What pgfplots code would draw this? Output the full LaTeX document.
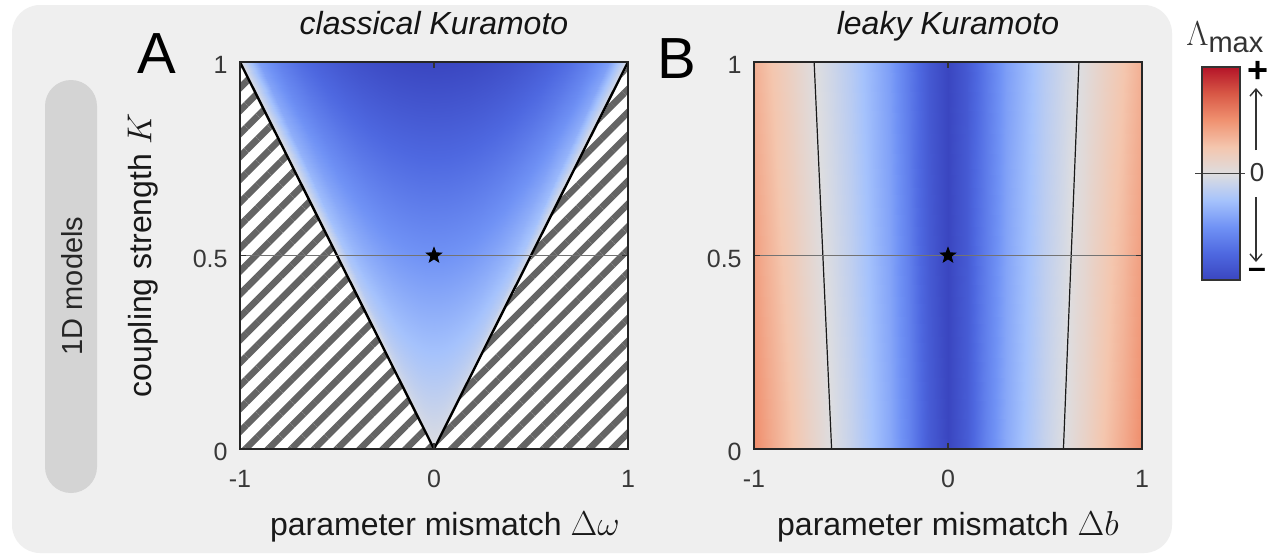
\documentclass[border=0pt]{standalone}
\usepackage[no-math]{fontspec}
\setmainfont{Liberation Sans}
\setsansfont{Liberation Sans}
\usepackage{pgfplots}
\pgfplotsset{compat=1.18}
\usetikzlibrary{patterns.meta,arrows.meta}

\definecolor{bgc}{RGB}{239,239,239}
\definecolor{pillc}{RGB}{212,212,212}
\definecolor{hatchc}{RGB}{100,100,100}
\definecolor{midl}{RGB}{115,115,115}

\pgfdeclareplotmark{fstar}{%
  \pgfpathmoveto{\pgfpointpolar{90}{\pgfplotmarksize}}%
  \pgfpathlineto{\pgfpointpolar{126}{0.42\pgfplotmarksize}}%
  \pgfpathlineto{\pgfpointpolar{162}{\pgfplotmarksize}}%
  \pgfpathlineto{\pgfpointpolar{198}{0.42\pgfplotmarksize}}%
  \pgfpathlineto{\pgfpointpolar{234}{\pgfplotmarksize}}%
  \pgfpathlineto{\pgfpointpolar{270}{0.42\pgfplotmarksize}}%
  \pgfpathlineto{\pgfpointpolar{306}{\pgfplotmarksize}}%
  \pgfpathlineto{\pgfpointpolar{342}{0.42\pgfplotmarksize}}%
  \pgfpathlineto{\pgfpointpolar{18}{\pgfplotmarksize}}%
  \pgfpathlineto{\pgfpointpolar{54}{0.42\pgfplotmarksize}}%
  \pgfpathclose
  \pgfusepathqfillstroke
}

\pgfplotsset{
  colormap={lk}{rgb255=(58,70,192) rgb255=(78,104,224) rgb255=(112,146,245) rgb255=(165,194,252) rgb255=(221,221,224) rgb255=(244,198,174) rgb255=(240,145,112) rgb255=(216,88,70) rgb255=(180,20,40)},
  panel/.style={
    scale only axis, width=194pt, height=193.5pt,
    anchor=south west,
    xmin=-1, xmax=1, ymin=0, ymax=1,
    xtick={-1,0,1}, xticklabels={-1,0,1},
    ytick={0,0.5,1}, yticklabels={0,0.5,1},
    tick align=inside, major tick length=3pt,
    tick style={black!80, line width=0.6pt},
    axis line style={black!85, line width=0.9pt},
    axis on top,
    ticklabel style={font=\fontsize{12.5}{14}\selectfont, text=black!78},
    xticklabel style={anchor=base, yshift=-19pt},
    yticklabel style={anchor=east, inner sep=0pt, xshift=-6pt, yshift=-1.5pt},
    title style={font=\itshape\fontsize{16}{18}\selectfont, text=black!92, at={(0.5,1)}, anchor=base, yshift=7.75pt},
    xlabel style={font=\fontsize{16}{18}\selectfont, text=black!90, at={(0.5,0)}, anchor=base, yshift=-43pt},
    ylabel style={font=\fontsize{16}{18}\selectfont, text=black!90, at={(-0.25,0.5)}, anchor=center},
    point meta min=-1, point meta max=1, colormap name=lk,
  },
}

\begin{document}
\begin{tikzpicture}[x=1pt,y=1pt]
\useasboundingbox (0,0) rectangle (637,-278.5);
\fill[white] (0,0) rectangle (637,-278.5);
\fill[bgc, rounded corners=14pt] (6,-2.5) rectangle (586,-276.5);
\fill[pillc, rounded corners=13pt] (22.5,-40) rectangle (48.5,-246.5);
\node[rotate=90, font=\fontsize{14.5}{16}\selectfont, text=black!85] at (36,-143) {1D models};
\node[font=\fontsize{29}{30}\selectfont, inner sep=0pt] at (78.5,-27) {A};
\node[font=\fontsize{29}{30}\selectfont, inner sep=0pt] at (338.5,-29.5) {B};

% ---------------- Panel A
\begin{axis}[panel, at={(120pt,-224.5pt)},
  title={classical Kuramoto},
  xlabel={parameter mismatch $\Delta\omega$},
  ylabel={coupling strength $K$},
  xlabel style={at={(0.528,0)}}]
\addplot[draw=none, fill=white] coordinates {(-1,0) (0,0) (-1,1) (-1,0)};
\addplot[draw=none, fill=white] coordinates {(0,0) (1,0) (1,1) (0,0)};
\addplot[draw=none, pattern={Lines[angle=45,distance=8.1pt,line width=3.3pt]}, pattern color=hatchc] coordinates {(-1,0) (0,0) (-1,1) (-1,0)};
\addplot[draw=none, pattern={Lines[angle=45,distance=8.1pt,line width=3.3pt]}, pattern color=hatchc] coordinates {(0,0) (1,0) (1,1) (0,0)};
\addplot[surf, shader=interp, mesh/cols=21, point meta=explicit] coordinates {
(0,0)[0] (0,0)[0] (0,0)[0] (0,0)[0] (0,0)[0] (0,0)[0] (0,0)[0] (0,0)[0] (0,0)[0] (0,0)[0] (0,0)[0] (0,0)[0] (0,0)[0] (0,0)[0] (0,0)[0] (0,0)[0] (0,0)[0] (0,0)[0] (0,0)[0] (0,0)[0] (0,0)[0]
(-0.1,0.1)[0] (-0.09,0.1)[-0.044] (-0.08,0.1)[-0.06] (-0.07,0.1)[-0.071] (-0.06,0.1)[-0.08] (-0.05,0.1)[-0.087] (-0.04,0.1)[-0.092] (-0.03,0.1)[-0.095] (-0.02,0.1)[-0.098] (-0.01,0.1)[-0.1] (0,0.1)[-0.1] (0.01,0.1)[-0.1] (0.02,0.1)[-0.098] (0.03,0.1)[-0.095] (0.04,0.1)[-0.092] (0.05,0.1)[-0.087] (0.06,0.1)[-0.08] (0.07,0.1)[-0.071] (0.08,0.1)[-0.06] (0.09,0.1)[-0.044] (0.1,0.1)[0]
(-0.2,0.2)[0] (-0.18,0.2)[-0.087] (-0.16,0.2)[-0.12] (-0.14,0.2)[-0.143] (-0.12,0.2)[-0.16] (-0.1,0.2)[-0.173] (-0.08,0.2)[-0.183] (-0.06,0.2)[-0.191] (-0.04,0.2)[-0.196] (-0.02,0.2)[-0.199] (0,0.2)[-0.2] (0.02,0.2)[-0.199] (0.04,0.2)[-0.196] (0.06,0.2)[-0.191] (0.08,0.2)[-0.183] (0.1,0.2)[-0.173] (0.12,0.2)[-0.16] (0.14,0.2)[-0.143] (0.16,0.2)[-0.12] (0.18,0.2)[-0.087] (0.2,0.2)[0]
(-0.3,0.3)[0] (-0.27,0.3)[-0.131] (-0.24,0.3)[-0.18] (-0.21,0.3)[-0.214] (-0.18,0.3)[-0.24] (-0.15,0.3)[-0.26] (-0.12,0.3)[-0.275] (-0.09,0.3)[-0.286] (-0.06,0.3)[-0.294] (-0.03,0.3)[-0.299] (0,0.3)[-0.3] (0.03,0.3)[-0.299] (0.06,0.3)[-0.294] (0.09,0.3)[-0.286] (0.12,0.3)[-0.275] (0.15,0.3)[-0.26] (0.18,0.3)[-0.24] (0.21,0.3)[-0.214] (0.24,0.3)[-0.18] (0.27,0.3)[-0.131] (0.3,0.3)[0]
(-0.4,0.4)[0] (-0.36,0.4)[-0.174] (-0.32,0.4)[-0.24] (-0.28,0.4)[-0.286] (-0.24,0.4)[-0.32] (-0.2,0.4)[-0.346] (-0.16,0.4)[-0.367] (-0.12,0.4)[-0.382] (-0.08,0.4)[-0.392] (-0.04,0.4)[-0.398] (0,0.4)[-0.4] (0.04,0.4)[-0.398] (0.08,0.4)[-0.392] (0.12,0.4)[-0.382] (0.16,0.4)[-0.367] (0.2,0.4)[-0.346] (0.24,0.4)[-0.32] (0.28,0.4)[-0.286] (0.32,0.4)[-0.24] (0.36,0.4)[-0.174] (0.4,0.4)[0]
(-0.5,0.5)[0] (-0.45,0.5)[-0.218] (-0.4,0.5)[-0.3] (-0.35,0.5)[-0.357] (-0.3,0.5)[-0.4] (-0.25,0.5)[-0.433] (-0.2,0.5)[-0.459] (-0.15,0.5)[-0.477] (-0.1,0.5)[-0.49] (-0.05,0.5)[-0.498] (0,0.5)[-0.5] (0.05,0.5)[-0.498] (0.1,0.5)[-0.49] (0.15,0.5)[-0.477] (0.2,0.5)[-0.459] (0.25,0.5)[-0.433] (0.3,0.5)[-0.4] (0.35,0.5)[-0.357] (0.4,0.5)[-0.3] (0.45,0.5)[-0.218] (0.5,0.5)[0]
(-0.6,0.6)[0] (-0.54,0.6)[-0.262] (-0.48,0.6)[-0.36] (-0.42,0.6)[-0.428] (-0.36,0.6)[-0.48] (-0.3,0.6)[-0.52] (-0.24,0.6)[-0.55] (-0.18,0.6)[-0.572] (-0.12,0.6)[-0.588] (-0.06,0.6)[-0.597] (0,0.6)[-0.6] (0.06,0.6)[-0.597] (0.12,0.6)[-0.588] (0.18,0.6)[-0.572] (0.24,0.6)[-0.55] (0.3,0.6)[-0.52] (0.36,0.6)[-0.48] (0.42,0.6)[-0.428] (0.48,0.6)[-0.36] (0.54,0.6)[-0.262] (0.6,0.6)[0]
(-0.7,0.7)[0] (-0.63,0.7)[-0.305] (-0.56,0.7)[-0.42] (-0.49,0.7)[-0.5] (-0.42,0.7)[-0.56] (-0.35,0.7)[-0.606] (-0.28,0.7)[-0.642] (-0.21,0.7)[-0.668] (-0.14,0.7)[-0.686] (-0.07,0.7)[-0.697] (0,0.7)[-0.7] (0.07,0.7)[-0.697] (0.14,0.7)[-0.686] (0.21,0.7)[-0.668] (0.28,0.7)[-0.642] (0.35,0.7)[-0.606] (0.42,0.7)[-0.56] (0.49,0.7)[-0.5] (0.56,0.7)[-0.42] (0.63,0.7)[-0.305] (0.7,0.7)[0]
(-0.8,0.8)[0] (-0.72,0.8)[-0.349] (-0.64,0.8)[-0.48] (-0.56,0.8)[-0.571] (-0.48,0.8)[-0.64] (-0.4,0.8)[-0.693] (-0.32,0.8)[-0.734] (-0.24,0.8)[-0.763] (-0.16,0.8)[-0.784] (-0.08,0.8)[-0.796] (0,0.8)[-0.8] (0.08,0.8)[-0.796] (0.16,0.8)[-0.784] (0.24,0.8)[-0.763] (0.32,0.8)[-0.734] (0.4,0.8)[-0.693] (0.48,0.8)[-0.64] (0.56,0.8)[-0.571] (0.64,0.8)[-0.48] (0.72,0.8)[-0.349] (0.8,0.8)[0]
(-0.9,0.9)[0] (-0.81,0.9)[-0.392] (-0.72,0.9)[-0.54] (-0.63,0.9)[-0.643] (-0.54,0.9)[-0.72] (-0.45,0.9)[-0.779] (-0.36,0.9)[-0.825] (-0.27,0.9)[-0.859] (-0.18,0.9)[-0.882] (-0.09,0.9)[-0.896] (0,0.9)[-0.9] (0.09,0.9)[-0.896] (0.18,0.9)[-0.882] (0.27,0.9)[-0.859] (0.36,0.9)[-0.825] (0.45,0.9)[-0.779] (0.54,0.9)[-0.72] (0.63,0.9)[-0.643] (0.72,0.9)[-0.54] (0.81,0.9)[-0.392] (0.9,0.9)[0]
(-1,1)[0] (-0.9,1)[-0.436] (-0.8,1)[-0.6] (-0.7,1)[-0.714] (-0.6,1)[-0.8] (-0.5,1)[-0.866] (-0.4,1)[-0.917] (-0.3,1)[-0.954] (-0.2,1)[-0.98] (-0.1,1)[-0.995] (0,1)[-1] (0.1,1)[-0.995] (0.2,1)[-0.98] (0.3,1)[-0.954] (0.4,1)[-0.917] (0.5,1)[-0.866] (0.6,1)[-0.8] (0.7,1)[-0.714] (0.8,1)[-0.6] (0.9,1)[-0.436] (1,1)[0]
};
\addplot[black, line width=1.2pt] coordinates {(-1,1) (0,0) (1,1)};
\addplot[midl, line width=0.75pt] coordinates {(-1,0.5) (1,0.5)};
\addplot[only marks, mark=fstar, mark size=4pt, black] coordinates {(0,0.5)};
\end{axis}

% ---------------- Panel B
\begin{axis}[panel, at={(377pt,-224.5pt)},
  title={leaky Kuramoto},
  xlabel={parameter mismatch $\Delta b$}]
\addplot[surf, shader=interp, mesh/cols=21, point meta=explicit] coordinates {
(-1,0)[0.52] (-0.9,0)[0.38] (-0.8,0)[0.25] (-0.7,0)[0.12] (-0.6,0)[0] (-0.5,0)[-0.10] (-0.4,0)[-0.23] (-0.3,0)[-0.38] (-0.2,0)[-0.58] (-0.1,0)[-0.84] (0,0)[-1] (0.1,0)[-0.84] (0.2,0)[-0.58] (0.3,0)[-0.38] (0.4,0)[-0.23] (0.5,0)[-0.10] (0.6,0)[0] (0.7,0)[0.12] (0.8,0)[0.25] (0.9,0)[0.38] (1,0)[0.52]
(-1,1)[0.36] (-0.9,1)[0.24] (-0.8,1)[0.13] (-0.7,1)[0.02] (-0.6,1)[-0.07] (-0.5,1)[-0.17] (-0.4,1)[-0.30] (-0.3,1)[-0.44] (-0.2,1)[-0.64] (-0.1,1)[-0.86] (0,1)[-1] (0.1,1)[-0.86] (0.2,1)[-0.64] (0.3,1)[-0.44] (0.4,1)[-0.30] (0.5,1)[-0.17] (0.6,1)[-0.07] (0.7,1)[0.02] (0.8,1)[0.13] (0.9,1)[0.24] (1,1)[0.36]
};
\addplot[black!90, line width=0.6pt] coordinates {(-0.60,0) (-0.69,1)};
\addplot[black!90, line width=0.6pt] coordinates {(0.595,0) (0.675,1)};
\addplot[midl, line width=0.75pt] coordinates {(-1,0.5) (1,0.5)};
\addplot[only marks, mark=fstar, mark size=4pt, black] coordinates {(0,0.5)};
\end{axis}

% ---------------- colour bar
\begin{axis}[scale only axis, width=19pt, height=106.5pt, anchor=south west,
  at={(601pt,-140pt)}, xmin=0, xmax=1, ymin=-1, ymax=1,
  xtick=\empty, ytick=\empty, axis on top, clip=false,
  axis line style={black!80, line width=1pt},
  point meta min=-1, point meta max=1, colormap name=lk]
\addplot[surf, shader=interp, mesh/cols=2, point meta=explicit] coordinates {
(0,-1)[-1] (1,-1)[-1]
(0,-0.5)[-0.5] (1,-0.5)[-0.5]
(0,0)[0] (1,0)[0]
(0,0.5)[0.5] (1,0.5)[0.5]
(0,1)[1] (1,1)[1]
};
\addplot[black!75, line width=0.8pt] coordinates {(-0.18,0) (1.13,0)};
\end{axis}

\node[anchor=base west, inner sep=0pt, text=black!80] at (593,-22.5) {\fontsize{19}{19}\selectfont$\Lambda$\fontsize{14.5}{15}\selectfont\raisebox{-3.5pt}{max}};
\node[font=\bfseries\fontsize{18}{18}\selectfont, inner sep=0pt] at (629,-36) {+};
\node[font=\fontsize{13}{14}\selectfont, inner sep=0pt, text=black!80] at (628.5,-86.5) {0};
\node[font=\bfseries\fontsize{16}{16}\selectfont, inner sep=0pt] at (628.5,-136.5) {–};
\draw[black!80, line width=0.7pt, -{Straight Barb[length=3.5pt,width=6pt]}] (628,-75) -- (628,-44);
\draw[black!80, line width=0.7pt, -{Straight Barb[length=3.5pt,width=6pt]}] (628,-98.5) -- (628,-131);
\end{tikzpicture}
\end{document}
